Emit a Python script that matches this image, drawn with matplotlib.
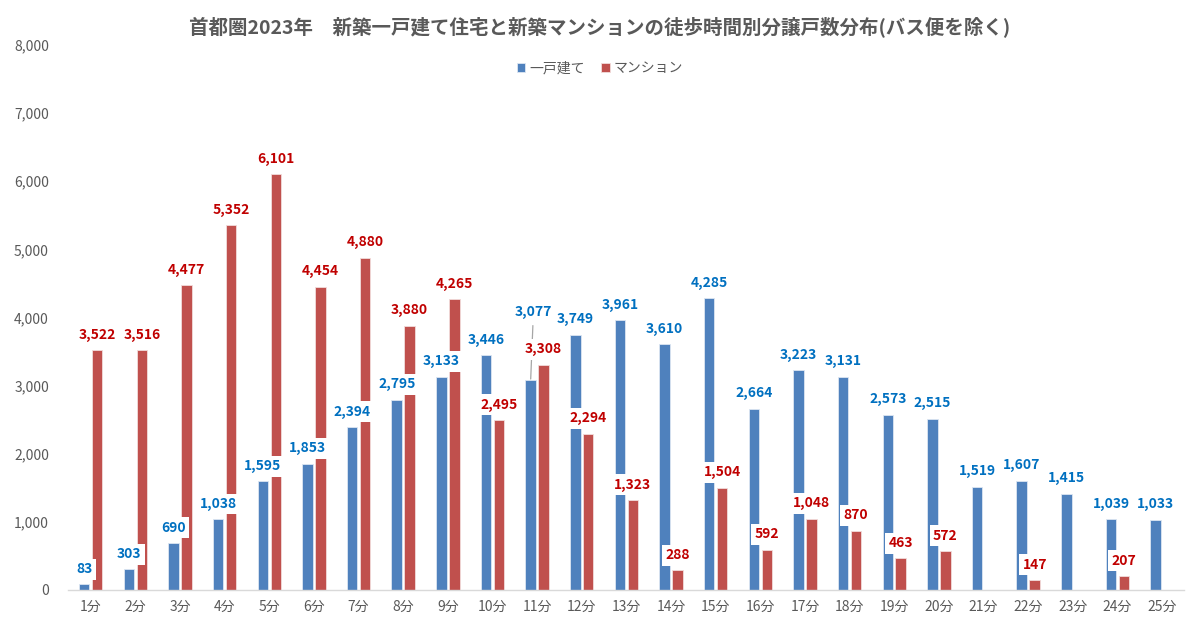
import matplotlib
matplotlib.use("Agg")
import matplotlib.pyplot as plt
import numpy as np

plt.rcParams['font.family'] = ['Noto Sans CJK JP', 'DejaVu Sans']

categories = [f"{i}分" for i in range(1, 26)]
detached = [83, 303, 690, 1038, 1595, 1853, 2394, 2795, 3133, 3446, 3077, 3749, 3961,
            3610, 4285, 2664, 3223, 3131, 2573, 2515, 1519, 1607, 1415, 1039, 1033]
condo = [3522, 3516, 4477, 5352, 6101, 4454, 4880, 3880, 4265, 2495, 3308, 2294, 1323,
         288, 1504, 592, 1048, 870, 463, 572, None, 147, None, 207, None]
series_names = ["一戸建て", "マンション"]
title = "首都圏2023年\u3000新築一戸建て住宅と新築マンションの徒歩時間別分譲戸数分布(バス便を除く)"

blue = "#4F81BD"
red = "#C0504D"
blue_txt = "#0070C0"
red_txt = "#C00000"
gray = "#595959"

fig = plt.figure(figsize=(12, 6.3), dpi=100)
ax = fig.add_axes([0.057, 0.0635, 0.93, 0.865])

x = np.arange(len(categories))
w = 0.235
off = 0.145
cvals = np.array([np.nan if v is None else v for v in condo], dtype=float)

b1 = ax.bar(x - off, detached, w, color=blue, edgecolor="#DCE6F2", linewidth=0.6,
            label=series_names[0], zorder=1)
b2 = ax.bar(x + off, cvals, w, color=red, edgecolor="#F2DCDB", linewidth=0.6,
            label=series_names[1], zorder=1)

box = dict(boxstyle="square,pad=0.25", fc="white", ec="none")
for i, v in enumerate(detached):
    if i == 10:
        ax.annotate(f"{v:,}", xy=(x[i] - off, v), xytext=(2, 49), textcoords="offset points",
                    ha="center", va="center", fontsize=10, fontweight="bold", color=blue_txt,
                    bbox=box, zorder=5,
                    arrowprops=dict(arrowstyle="-", color="#A6A6A6", lw=0.9,
                                    shrinkA=2, shrinkB=1))
    else:
        ax.annotate(f"{v:,}", xy=(x[i] - off, v), xytext=(0, 11), textcoords="offset points",
                    ha="center", va="center", fontsize=10, fontweight="bold", color=blue_txt,
                    bbox=box, zorder=5)
for i, v in enumerate(condo):
    if v is None:
        continue
    ax.annotate(f"{v:,}", xy=(x[i] + off, v), xytext=(0, 11), textcoords="offset points",
                ha="center", va="center", fontsize=10, fontweight="bold", color=red_txt,
                bbox=box, zorder=5)

ax.set_xlim(-0.5, len(categories) - 0.5)
ax.set_ylim(0, 8000)
ax.set_yticks(np.arange(0, 8001, 1000))
ax.set_yticklabels([f"{t:,}" for t in range(0, 8001, 1000)])
ax.set_xticks(x)
ax.set_xticklabels(categories)
ax.tick_params(axis="both", length=0, labelsize=10, labelcolor=gray)
ax.tick_params(axis="y", pad=14)
ax.tick_params(axis="x", pad=7)
for s in ["top", "right", "left"]:
    ax.spines[s].set_visible(False)
ax.spines["bottom"].set_color("#D9D9D9")
ax.spines["bottom"].set_linewidth(1.0)

fig.text(0.5, 1 - 27 / 630, title, ha="center", va="center", fontsize=14,
         fontweight="bold", color=gray)
fig.legend(handles=[b1, b2], labels=series_names, loc="center",
           bbox_to_anchor=(0.5, 1 - 68 / 630), ncol=2, frameon=False, fontsize=10,
           labelcolor=gray, handlelength=0.6, handleheight=0.6, handletextpad=0.3,
           columnspacing=1.2)

fig.savefig("out.png", dpi=100)
